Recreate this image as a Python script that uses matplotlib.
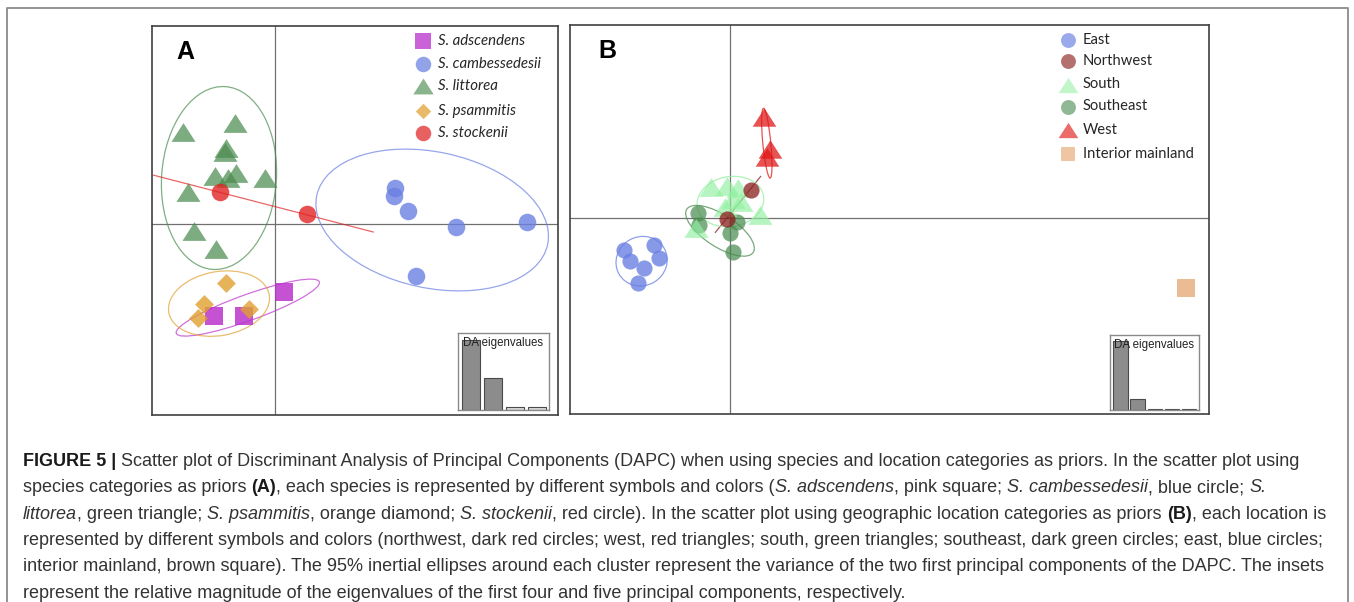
import numpy as np
import matplotlib
matplotlib.use('Agg')
import matplotlib.pyplot as plt
from matplotlib.patches import Ellipse
from matplotlib.path import Path

W, H = 1354, 602

# ---------------- Panel A data (species priors) ----------------
species = ['S. adscendens', 'S. cambessedesii', 'S. littorea', 'S. psammitis', 'S. stockenii']
adsc_x = [-1.53, -0.78, 0.23]
adsc_y = [-2.30, -2.30, -1.70]
camb_x = [3.00, 2.98, 3.33, 4.53, 6.30, 3.53]
camb_y = [0.90, 0.70, 0.33, -0.08, 0.05, -1.30]
litt_x = [-2.30, -1.00, -1.23, -1.25, -1.50, -1.18, -0.98, -0.25, -2.18, -2.03, -1.48]
litt_y = [2.30, 2.53, 1.90, 1.80, 1.20, 1.15, 1.28, 1.15, 0.80, -0.18, -0.63]
psam_x = [-1.23, -1.78, -1.93, -0.65]
psam_y = [-1.48, -2.00, -2.35, -2.13]
stock_x = [-1.38, 0.80]
stock_y = [0.80, 0.25]
# ellipses (centre x, centre y, width, height, angle) in species order
ellA_x = [-0.68, 3.93, -1.40, -1.40, -0.29]
ellA_y = [-2.09, 0.10, 1.15, -1.99, 0.51]
ellA_w = [3.80, 5.90, 2.87, 2.55, 5.70]
ellA_h = [0.65, 3.40, 4.58, 1.60, 0.0]
ellA_ang = [19.8, -12.0, -4.0, 10.0, -14.5]
eigA = [1.0, 0.45, 0.047, 0.047]

# ---------------- Panel B data (location priors) ----------------
locations = ['East', 'Northwest', 'South', 'Southeast', 'West', 'Interior mainland']
east_x = [-2.64, -1.89, -2.49, -1.78, -2.15, -2.29]
east_y = [-0.80, -0.68, -1.07, -1.01, -1.24, -1.63]
nw_x = [0.53, -0.08]
nw_y = [0.70, -0.03]
south_x = [-0.48, -0.08, 0.20, 0.08, 0.28, -0.13, 0.75, -0.85]
south_y = [0.78, 0.80, 0.75, 0.48, 0.40, 0.28, 0.08, -0.25]
se_x = [-0.80, -0.78, 0.17, 0.00, 0.08]
se_y = [0.12, -0.18, -0.09, -0.38, -0.86]
west_x = [0.85, 1.00, 0.93]
west_y = [2.53, 1.73, 1.53]
int_x = [11.4]
int_y = [-1.76]
ellB_x = [-2.21, 0.20, 0.01, -0.25, 0.92]
ellB_y = [-1.08, 0.34, 0.41, -0.32, 1.87]
ellB_w = [1.30, 1.83, 1.68, 1.98, 1.75]
ellB_h = [1.22, 0.0, 1.25, 0.80, 0.20]
ellB_ang = [30.0, 51.0, 10.0, -33.0, 95.5]
eigB = [1.0, 0.155, 0.015, 0.012, 0.008]

# ---------------- styles ----------------
colA = ['#bb33cc', '#6a80e2', '#4a8c4e', '#e0a030', '#e02424']
alpA = [0.85, 0.8, 0.72, 0.8, 0.8]
colB = ['#6a80e2', '#8a1e1e', '#90f0a0', '#4a8c50', '#e01818', '#e8b080']
alpB = [0.8, 0.75, 0.65, 0.72, 0.75, 0.85]

tri = Path([(0, 0.78), (-1, -0.78), (1, -0.78), (0, 0.78)],
           [Path.MOVETO, Path.LINETO, Path.LINETO, Path.CLOSEPOLY])

fig = plt.figure(figsize=(W / 100, H / 100), dpi=100)
fig.patch.set_facecolor('white')


def add_px_axes(l, t, r, b):
    return fig.add_axes([l / W, 1 - b / H, (r - l) / W, (b - t) / H])


# outer frame
fr = fig.add_axes([0, 0, 1, 1], zorder=-5)
fr.set_xlim(0, W)
fr.set_ylim(H, 0)
fr.axis('off')
fr.plot([7, 7, 1348, 1348], [H + 5, 8, 8, H + 5], color='#8a8a8a', lw=1.3)


def panel(l, t, r, b, x0, y0):
    ax = add_px_axes(l, t, r, b)
    ax.set_xlim((l - x0) / 40, (r - x0) / 40)
    ax.set_ylim((y0 - b) / 40, (y0 - t) / 40)
    ax.set_xticks([])
    ax.set_yticks([])
    for s in ax.spines.values():
        s.set_color('#404040')
        s.set_linewidth(1.2)
    ax.axvline(0, color='#707070', lw=0.9, zorder=0)
    ax.axhline(0, color='#707070', lw=0.9, zorder=0)
    return ax


def draw_ellipse(ax, cx, cy, w, h, ang, color, alpha):
    if h <= 0:
        # degenerate ellipse (two points): a segment along the major axis
        a = np.deg2rad(ang)
        dx, dy = 0.5 * w * np.cos(a), 0.5 * w * np.sin(a)
        ax.plot([cx - dx, cx + dx], [cy - dy, cy + dy], color=color,
                lw=0.9, alpha=alpha, zorder=2, solid_capstyle='butt')
    else:
        ax.add_patch(Ellipse((cx, cy), w, h, angle=ang, fill=False,
                             edgecolor=color, lw=0.9, alpha=alpha, zorder=2))


def inset(l, t, r, b, vals, cols, xl, ytop):
    ai = add_px_axes(l, t, r, b)
    ai.bar(np.arange(len(vals)), vals, width=0.84, color=cols,
           edgecolor='#4a4a4a', linewidth=0.8, zorder=2)
    ai.set_xlim(*xl)
    ai.set_ylim(0, ytop)
    ai.set_xticks([])
    ai.set_yticks([])
    for s in ai.spines.values():
        s.set_color('#8a8a8a')
        s.set_linewidth(1.0)
    ai.text(0.05, 0.87, 'DA eigenvalues', transform=ai.transAxes, ha='left',
            va='center', fontsize=8.3, color='#222222',
            family='Liberation Sans', zorder=3)
    return ai


def px2ax(ax, l, t, r, b, px, py):
    return ((px - l) / (r - l), (b - py) / (b - t))


# ================= Panel A =================
LA, TA, RA, BA = 152, 26, 558, 415
axA = panel(LA, TA, RA, BA, 275, 224)
ptsA = [(adsc_x, adsc_y, 's', 169), (camb_x, camb_y, 'o', 160),
        (litt_x, litt_y, tri, 300), (psam_x, psam_y, 'D', 92),
        (stock_x, stock_y, 'o', 160)]
for i in range(len(species)):
    draw_ellipse(axA, ellA_x[i], ellA_y[i], ellA_w[i], ellA_h[i], ellA_ang[i],
                 colA[i], 0.7)
for i, (xs, ys, mk, sz) in enumerate(ptsA):
    axA.scatter(xs, ys, marker=mk, s=sz, color=colA[i], alpha=alpA[i],
                linewidths=0, zorder=3)

axA.text(*px2ax(axA, LA, TA, RA, BA, 185, 52), 'A', transform=axA.transAxes,
         ha='center', va='center', fontsize=18, fontweight='bold',
         family='Liberation Sans', color='black')

legA_y = [41, 64, 86, 110.5, 133]
legA_mk = [('s', 120), ('o', 125), (tri, 215), ('D', 62), ('o', 125)]
for i, name in enumerate(species):
    mx, my = px2ax(axA, LA, TA, RA, BA, 423, legA_y[i])
    axA.scatter([mx], [my], transform=axA.transAxes, marker=legA_mk[i][0],
                s=legA_mk[i][1], color=colA[i], alpha=alpA[i] * 0.9,
                linewidths=0, clip_on=False, zorder=4)
    tx, ty = px2ax(axA, LA, TA, RA, BA, 438, legA_y[i])
    axA.text(tx, ty, name, transform=axA.transAxes, ha='left', va='center',
             fontsize=10.8, style='italic', family='Lato', color='#262626')

inset(458, 333, 549, 410, eigA,
      ['#8c8c8c', '#8c8c8c', '#dcdcdc', '#dcdcdc'],
      (-0.6, 3.55), 1.0 * 77 / 70.5)

# ================= Panel B =================
LB, TB, RB, BB = 570, 25, 1209, 414
axB = panel(LB, TB, RB, BB, 730, 218)
ptsB = [(east_x, east_y, 'o', 135), (nw_x, nw_y, 'o', 135),
        (south_x, south_y, tri, 300), (se_x, se_y, 'o', 135),
        (west_x, west_y, tri, 290), (int_x, int_y, 's', 160)]
for i in range(5):
    draw_ellipse(axB, ellB_x[i], ellB_y[i], ellB_w[i], ellB_h[i], ellB_ang[i],
                 colB[i], 0.75)
order = [0, 3, 2, 1, 4, 5]
for i in order:
    xs, ys, mk, sz = ptsB[i]
    axB.scatter(xs, ys, marker=mk, s=sz, color=colB[i], alpha=alpB[i],
                linewidths=0, zorder=3)

axB.text(*px2ax(axB, LB, TB, RB, BB, 607, 51), 'B', transform=axB.transAxes,
         ha='center', va='center', fontsize=18, fontweight='bold',
         family='Liberation Sans', color='black')

legB_y = [40, 61, 84.5, 106.5, 130, 153.5]
legB_mk = [('o', 115), ('o', 115), (tri, 200), ('o', 115), (tri, 200), ('s', 105)]
for i, name in enumerate(locations):
    mx, my = px2ax(axB, LB, TB, RB, BB, 1068, legB_y[i])
    axB.scatter([mx], [my], transform=axB.transAxes, marker=legB_mk[i][0],
                s=legB_mk[i][1], color=colB[i], alpha=alpB[i] * 0.85,
                linewidths=0, clip_on=False, zorder=4)
    tx, ty = px2ax(axB, LB, TB, RB, BB, 1083, legB_y[i])
    axB.text(tx, ty, name, transform=axB.transAxes, ha='left', va='center',
             fontsize=10.6, family='Lato', color='#262626')

inset(1110, 335, 1199, 410, eigB,
      ['#8c8c8c', '#8c8c8c', '#6a6a6a', '#6a6a6a', '#9a9a9a'],
      (-0.62, 4.6), 1.0 * 75 / 69.3)

# ================= Caption =================
cap_lines = [
    [('FIGURE 5 |', 'b'), (' Scatter plot of Discriminant Analysis of Principal Components (DAPC) when using species and location categories as priors. In the scatter plot using', '')],
    [('species categories as priors ', ''), ('(A)', 'b'), (', each species is represented by different symbols and colors (', ''),
     ('S. adscendens', 'i'), (', pink square; ', ''), ('S. cambessedesii', 'i'), (', blue circle; ', ''), ('S.', 'i')],
    [('littorea', 'i'), (', green triangle; ', ''), ('S. psammitis', 'i'), (', orange diamond; ', ''), ('S. stockenii', 'i'),
     (', red circle). In the scatter plot using geographic location categories as priors ', ''), ('(B)', 'b'), (', each location is', '')],
    [('represented by different symbols and colors (northwest, dark red circles; west, red triangles; south, green triangles; southeast, dark green circles; east, blue circles;', '')],
    [('interior mainland, brown square). The 95% inertial ellipses around each cluster represent the variance of the two first principal components of the DAPC. The insets', '')],
    [('represent the relative magnitude of the eigenvalues of the first four and five principal components, respectively.', '')],
]
cap_size = 13.0
cap_x0 = 23
cap_y0 = 466
cap_dy = 26.3

renderer = fig.canvas.get_renderer()


def txt_width(s, weight='normal', style='normal'):
    t = fig.text(0, 0, s, fontsize=cap_size, fontweight=weight, fontstyle=style,
                 family='Liberation Sans')
    w = t.get_window_extent(renderer).width
    t.remove()
    return w


space_w = txt_width('a a') - txt_width('aa')

for li, runs in enumerate(cap_lines):
    x = cap_x0
    y = cap_y0 + li * cap_dy
    for s, st in runs:
        weight = 'bold' if 'b' in st else 'normal'
        style = 'italic' if 'i' in st else 'normal'
        color = '#1a1a1a' if 'b' in st else '#333333'
        lead = len(s) - len(s.lstrip(' '))
        trail = len(s) - len(s.rstrip(' '))
        core = s.strip(' ')
        x += lead * space_w
        t = fig.text(x / W, 1 - y / H, core, fontsize=cap_size, fontweight=weight,
                     fontstyle=style, family='Liberation Sans', color=color,
                     ha='left', va='baseline')
        x += t.get_window_extent(renderer).width + trail * space_w

fig.savefig('out.png', dpi=100, facecolor='white')
